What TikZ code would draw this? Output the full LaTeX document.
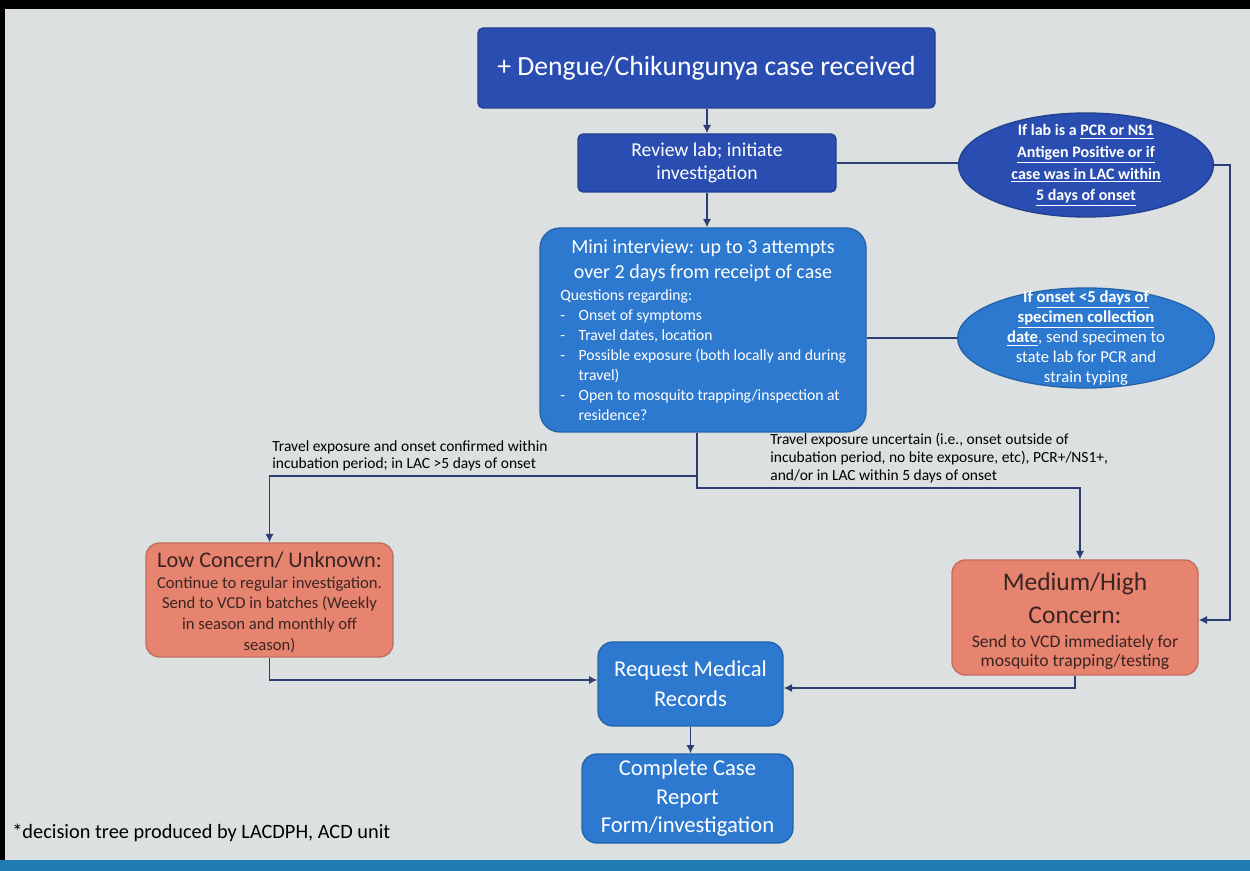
\documentclass[tikz,border=0pt]{standalone}
\usepackage{fontspec}
\setmainfont{Carlito}
\usetikzlibrary{shapes.geometric,arrows.meta,calc}
\definecolor{bgc}{HTML}{DCE0E1}
\definecolor{darkb}{HTML}{2A4DB2}
\definecolor{darkbd}{HTML}{22418F}
\definecolor{midb}{HTML}{2D79CF}
\definecolor{midbd}{HTML}{2463A8}
\definecolor{salm}{HTML}{E6846F}
\definecolor{salmd}{HTML}{C46C5C}
\definecolor{brn}{HTML}{3A2523}
\definecolor{linec}{HTML}{2C3E73}
\definecolor{stripc}{HTML}{1F7DB2}
\begin{document}
\begin{tikzpicture}[x=0.6pt,y=-0.6pt,
  line/.style={draw=linec, line width=1.1pt},
  arr/.style={line, -{Latex[length=5pt,width=5pt]}},
  darkbox/.style={rectangle, rounded corners=3pt, fill=darkb, draw=darkbd, line width=0.8pt, text=white, align=center, inner sep=0pt},
  midbox/.style={rectangle, rounded corners=9pt, fill=midb, draw=midbd, line width=0.8pt, text=white, align=center, inner sep=0pt},
  salmbox/.style={rectangle, rounded corners=8pt, fill=salm, draw=salmd, line width=0.8pt, inner sep=0pt},
  ell/.style={ellipse, inner sep=0pt, line width=0.8pt},
  intext/.style={inner sep=0pt, align=center},
  lbl/.style={inner sep=0pt, align=left, text=black, font=\fontsize{9.3}{10.6}\selectfont}]
\useasboundingbox (0,0) rectangle (1250,871);
\fill[bgc] (0,0) rectangle (1250,871);
\fill[black] (0,0) rectangle (1250,9);
\fill[black] (0,0) rectangle (5,871);
\fill[stripc] (0,860) rectangle (1250,871);

% boxes
\node[darkbox, minimum width=274.2pt, minimum height=48pt, font=\fontsize{16.6}{19}\selectfont] (title) at (706.5,68) {+ Dengue/Chikungunya case received};
\node[darkbox, minimum width=154.8pt, minimum height=34.8pt, font=\fontsize{11.8}{13.8}\selectfont] (review) at (707,163) {Review lab; initiate\\investigation};
\node[midbox, rounded corners=12pt, minimum width=195.6pt, minimum height=122.4pt] (mini) at (703,330) {};
\node[intext, text=white, font=\fontsize{12}{15}\selectfont] (minititle) at (703,260.5) {Mini interview: up to 3 attempts\\over 2 days from receipt of case};
\node[inner sep=0pt, align=left, text=white, anchor=north west, font=\fontsize{9.4}{12}\selectfont] (minilist) at (560,289) {Questions regarding:\\
\makebox[11pt][l]{-}Onset of symptoms\\
\makebox[11pt][l]{-}Travel dates, location\\
\makebox[11pt][l]{-}Possible exposure (both locally and during\\
\hspace*{11pt}travel)\\
\makebox[11pt][l]{-}Open to mosquito trapping/inspection at\\
\hspace*{11pt}residence?};

\node[ell, fill=darkb, draw=darkbd, minimum width=153pt, minimum height=62.4pt] (e1) at (1086,165) {};
\node[intext, text=white, font=\bfseries\fontsize{9.6}{13}\selectfont] (e1t) at (1086,165.5) {If lab is a \underline{PCR or NS1}\\\underline{Antigen Positive or if}\\\underline{case was in LAC within}\\\underline{5 days of onset}};

\node[ell, fill=midb, draw=midbd, minimum width=154pt, minimum height=60pt] (e2) at (1086,338) {};
\node[intext, text=white, font=\fontsize{10}{12}\selectfont] (e2t) at (1086,338) {\textbf{If \underline{onset <5 days of}}\\\textbf{\underline{specimen collection}}\\\textbf{\underline{date}}, send specimen to\\state lab for PCR and\\strain typing};

\node[salmbox, minimum width=148.2pt, minimum height=68.4pt] (low) at (269.5,600) {};
\node[intext, text=brn, font=\fontsize{13.4}{15}\selectfont] (lowt) at (269.5,560) {Low Concern/ Unknown:};
\node[intext, text=brn, font=\fontsize{10}{12.4}\selectfont] (lowb) at (269.5,614.5) {Continue to regular investigation.\\Send to VCD in batches (Weekly\\in season and monthly off\\season)};

\node[salmbox, minimum width=147.6pt, minimum height=69pt] (medium) at (1075,617.5) {};
\node[intext, text=brn, font=\fontsize{15.3}{19.8}\selectfont] (medt) at (1075,598.5) {Medium/High\\Concern:};
\node[intext, text=brn, font=\fontsize{10.6}{11.6}\selectfont] (medb) at (1075,652.5) {Send to VCD immediately for\\mosquito trapping/testing};

\node[midbox, minimum width=111pt, minimum height=50.4pt, font=\fontsize{13.6}{18}\selectfont] (request) at (690.5,684) {Request Medical\\Records};
\node[midbox, minimum width=126.6pt, minimum height=53.4pt, font=\fontsize{13.6}{17.1}\selectfont] (complete) at (687.5,798.5) {Complete Case\\Report\\Form/investigation};

% labels
\node[lbl, anchor=west] (labl) at (272,456) {Travel exposure and onset confirmed within\\incubation period; in LAC >5 days of onset};
\node[lbl, anchor=west] (labr) at (770,458) {Travel exposure uncertain (i.e., onset outside of\\incubation period, no bite exposure, etc), PCR+/NS1+,\\and/or in LAC within 5 days of onset};
\node[inner sep=0pt, anchor=west, text=black, font=\fontsize{12.2}{14}\selectfont] (note) at (12,833) {*decision tree produced by LACDPH, ACD unit};

% connectors
\draw[arr] (review.north |- title.south) -- (review.north);
\draw[line] (review.east) -- (review.east -| e1.west);
\coordinate (rv) at (1230,620);
\draw[arr] (e1.east) -| (rv) -- (rv -| medium.east);
\draw[arr] (review.south) -- (review.south |- mini.north);
\draw[line] (mini.east |- e2.west) -- (e2.west);
\coordinate (jl) at (697,476);
\coordinate (jr) at (697,488);
\coordinate (mr) at (1080,488);
\draw[arr] (mini.south -| jr) -- (jr) -- (mr) -- (mr |- medium.north);
\draw[arr] (jl) -- (jl -| low.north) -- (low.north);
\coordinate (rl) at ($(request.west)+(0,-4)$);
\coordinate (rr) at ($(request.east)+(0,4)$);
\draw[arr] (low.south) |- (rl);
\draw[arr] (medium.south) |- (rr);
\draw[arr] (request.south) -- (request.south |- complete.north);
\end{tikzpicture}
\end{document}
